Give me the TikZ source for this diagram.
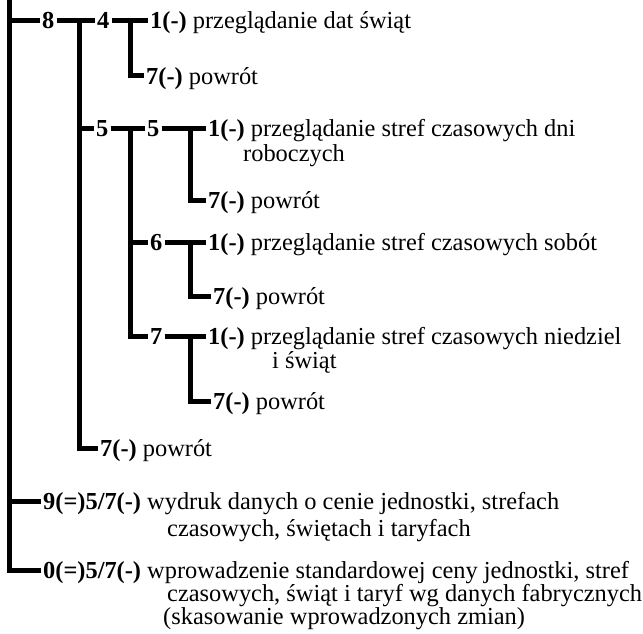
\documentclass[tikz,border=0pt]{standalone}
\usepackage{fontspec}
\setmainfont{Liberation Serif}
\begin{document}
\begin{tikzpicture}[x=1pt,y=-1pt,
  ln/.style={line width=5pt},
  key/.style={font=\fontsize{24.4}{26}\selectfont, inner xsep=2pt, inner ysep=0pt,
    text height=16.5pt, text depth=0pt, anchor=west},
  cont/.style={font=\fontsize{24.4}{26}\selectfont, inner sep=0pt, anchor=base west}]
\useasboundingbox (0,0) rectangle (643,634);
% nodes
\node[key] (k8) at (40,20.5) {\textbf{8}};
\node[key] (k4) at (95,20.5) {\textbf{4}};
\node[key] (t41) at (148,20.5) {\textbf{1(-)} przeglądanie dat świąt};
\node[key] (t47) at (144,76) {\textbf{7(-)} powrót};
\node[key] (k5) at (94,128.3) {\textbf{5}};
\node[key] (k55) at (145,128.3) {\textbf{5}};
\node[key] (t551) at (206,128.3) {\textbf{1(-)} przeglądanie stref czasowych dni};
\node[cont] (t551b) at (243,161.5) {roboczych};
\node[key] (t557) at (206,200) {\textbf{7(-)} powrót};
\node[key] (k6) at (148,242.7) {\textbf{6}};
\node[key] (t61) at (206,242.7) {\textbf{1(-)} przeglądanie stref czasowych sobót};
\node[key] (t67) at (211,296.7) {\textbf{7(-)} powrót};
\node[key] (k7) at (148,336) {\textbf{7}};
\node[key] (t71) at (206,336) {\textbf{1(-)} przeglądanie stref czasowych niedziel};
\node[cont] (t71b) at (272,368) {i świąt};
\node[key] (t77) at (211,401.7) {\textbf{7(-)} powrót};
\node[key] (t57) at (98,448) {\textbf{7(-)} powrót};
\node[key] (t9) at (41,501.7) {\textbf{9(=)5/7(-)} wydruk danych o cenie jednostki, strefach};
\node[cont] (t9b) at (167,536) {czasowych, świętach i taryfach};
\node[key] (t0) at (41,570) {\textbf{0(=)5/7(-)} wprowadzenie standardowej ceny jednostki, stref};
\node[cont] (t0b) at (167,601.5) {czasowych, świąt i taryf wg danych fabrycznych};
\node[cont] (t0c) at (163,624) {(skasowanie wprowadzonych zmian)};
% junction coordinates
\coordinate (top) at (9.5,0);
\coordinate (vA) at (79.5,20.5);
\coordinate (vB) at (130.5,20.5);
\coordinate (vC) at (130,128.3);
\coordinate (vD) at (190,128.3);
\coordinate (vE) at (190,242.7);
\coordinate (vF) at (190,336);
% connectors
\draw[ln] (top) |- (t0.west);
\draw[ln] (top |- k8.west) -- (k8.west);
\draw[ln] (top |- t9.west) -- (t9.west);
\draw[ln] (k8.east) -- (k4.west);
\draw[ln] (vA) |- (t57.west);
\draw[ln] (vA |- k5.west) -- (k5.west);
\draw[ln] (k4.east) -- (t41.west);
\draw[ln] (vB) |- (t47.west);
\draw[ln] (k5.east) -- (k55.west);
\draw[ln] (vC) |- (k7.west);
\draw[ln] (vC |- k6.west) -- (k6.west);
\draw[ln] (k55.east) -- (t551.west);
\draw[ln] (vD) |- (t557.west);
\draw[ln] (k6.east) -- (t61.west);
\draw[ln] (vE) |- (t67.west);
\draw[ln] (k7.east) -- (t71.west);
\draw[ln] (vF) |- (t77.west);
\end{tikzpicture}
\end{document}
